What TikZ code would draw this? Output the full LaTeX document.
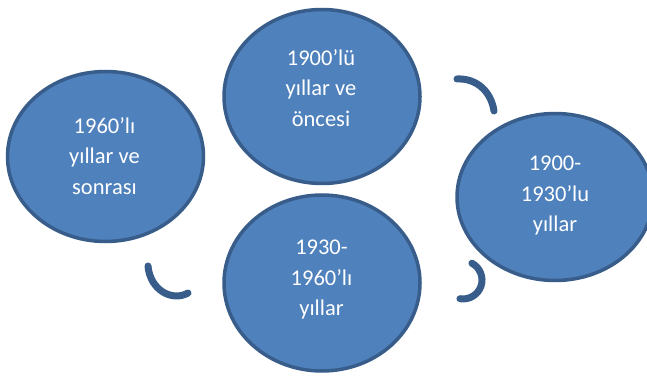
\documentclass[tikz,border=0pt]{standalone}
\usepackage{fontspec}
\setmainfont{Carlito}
\usetikzlibrary{shapes.geometric}
\definecolor{cycfill}{HTML}{4F81BD}
\definecolor{cycline}{HTML}{385D8A}
\begin{document}
\begin{tikzpicture}[x=1pt,y=-1pt,
  phase/.style={ellipse, draw=cycline, fill=cycfill, line width=3.5pt,
    minimum width=196pt, inner sep=0pt},
  phasetext/.style={text=white, align=center, inner sep=0pt,
    font=\fontsize{22.5}{30.5}\selectfont},
  turn/.style={draw=cycline, line width=7pt, line cap=round}]
\useasboundingbox (0,0) rectangle (647,379);
\clip (0,0) rectangle (647,379);

% the four periods of the cycle
\node[phase, minimum height=174pt] (p1) at (322,96.5) {};
\node[phase, minimum height=167pt] (p2) at (555,197) {};
\node[phase, minimum height=176pt] (p3) at (322,283) {};
\node[phase, minimum height=170pt] (p4) at (105.5,156.5) {};

\node[phasetext] (t1) at (321,88) {1900’lü\\yıllar ve\\öncesi};
\node[phasetext] (t2) at (555,196) {1900-\\1930’lu\\yıllar};
\node[phasetext] (t3) at (321.5,280) {1930-\\1960’lı\\yıllar};
\node[phasetext] (t4) at (104.5,156) {1960’lı\\yıllar ve\\sonrası};

% curved turn marks between the periods
\coordinate (a1s) at (457,79);
\coordinate (a1e) at (494,111);
\draw[turn] (a1s) .. controls (476,78) and (491,91) .. (a1e);

\coordinate (a2s) at (471.9,263.2);
\coordinate (a2m) at (481,286.1);
\coordinate (a2e) at (459.9,298.7);
\draw[turn] (a2s) .. controls (480.1,267.6) and (484,277.3) .. (a2m)
            .. controls (478,294.9) and (469.1,300.2) .. (a2e);

\coordinate (a3s) at (148,266);
\coordinate (a3e) at (188,293);
\draw[turn] (a3s) .. controls (150,290) and (172,302) .. (a3e);
\end{tikzpicture}
\end{document}
